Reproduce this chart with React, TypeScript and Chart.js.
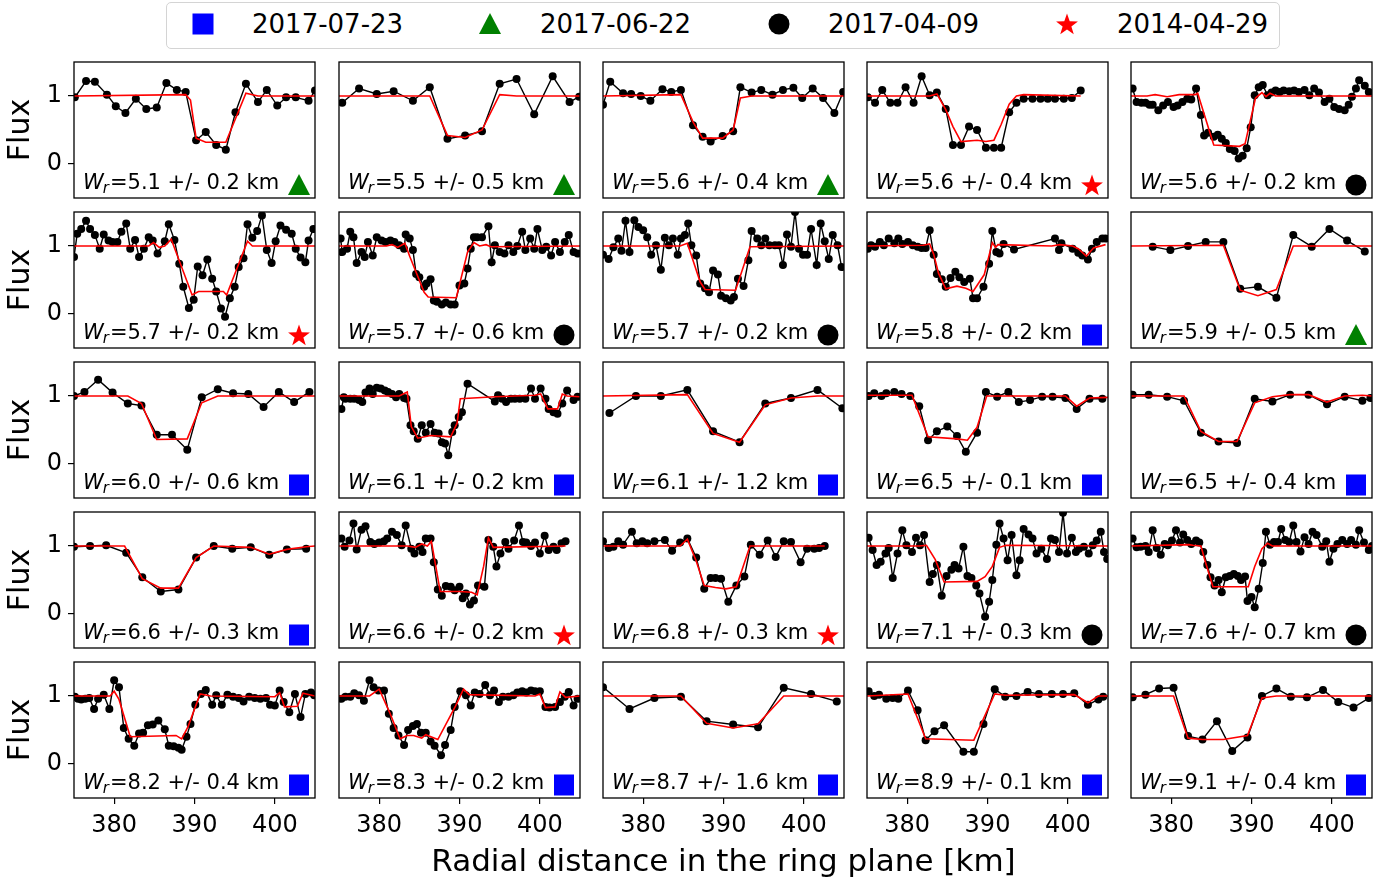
import React, { useEffect, useRef } from "react";
import { Chart, registerables } from "chart.js";

Chart.register(...registerables);

const FONT = "'DejaVu Sans', 'Noto Sans', sans-serif";

// ---------- panel data (radial distance [km], normalised flux) ----------
const d01x = [375.1,376.5,377.6,379.1,380.2,381.4,382.7,384.0,385.3,386.5,387.8,388.9,390.2,391.4,392.7,393.9,395.1,396.4,397.9,399.0,400.3,401.4,402.6,404.2,405.0];
const d01y = [0.98,1.22,1.21,1.02,0.85,0.75,0.96,0.81,0.83,1.19,1.09,1.06,0.35,0.47,0.28,0.21,0.76,1.18,0.91,1.09,0.86,0.98,0.98,0.93,1.08];
const m01x = [375,388.9,389.5,390.2,391.4,393.9,396.4,397.9,405];
const m01y = [1.0,1.02,0.94,0.38,0.32,0.32,1.04,1.0,1.0];

const d02x = [375.4,377.5,379.7,381.8,384.2,386.3,388.5,390.7,392.8,395.0,397.1,399.3,401.6,403.7,404.9];
const d02y = [0.90,1.11,1.03,1.07,0.93,1.13,0.37,0.42,0.48,1.18,1.25,0.73,1.29,0.91,0.99];
const m02x = [375,386.3,388.5,390.7,392.8,395.0,397.1,405];
const m02y = [1,1.0,0.42,0.39,0.5,1.02,1.0,1.0];

const d03x = [375.0,375.9,377.5,378.5,379.7,380.9,382.4,383.5,384.7,386.2,387.4,388.4,389.9,391.2,392.1,393.5,394.7,396.1,397.4,398.7,399.8,401.1,402.4,403.8,404.9];
const d03y = [0.87,1.21,1.04,1.03,1.0,0.93,1.1,1.06,1.09,0.57,0.40,0.33,0.41,0.48,1.13,1.05,1.09,1.02,1.09,1.12,0.97,1.11,0.97,0.75,1.06];
const m03x = [375,384.7,386.2,387.4,389.9,391.2,392.1,393.5,405];
const m03y = [1.0,1.02,0.62,0.38,0.38,0.5,0.97,1.0,1.0];

const d04x = [375.1,376.0,376.9,377.9,378.8,379.8,380.8,381.8,382.8,383.7,384.8,385.7,386.7,387.7,388.7,389.8,390.8,391.7,392.7,393.6,394.5,395.6,396.6,397.5,398.4,399.5,400.5,401.6];
const d04y = [0.98,0.90,1.09,0.90,0.90,1.13,0.90,1.29,1.01,1.05,0.81,0.28,0.28,0.55,0.50,0.24,0.24,0.24,0.76,0.90,0.96,0.96,0.96,0.96,0.96,0.96,0.97,1.08];
const m04x = [375,382.8,383.7,384.8,385.7,386.7,388.7,389.8,390.8,391.7,392.7,393.6,394.5,401.6];
const m04y = [1.0,1.0,1.03,0.8,0.55,0.33,0.35,0.33,0.35,0.58,0.88,1.0,1.02,1.0];

const d05x = [375.2,375.7,376.3,376.8,377.3,377.7,378.4,379.0,379.6,380.3,380.8,381.4,382.0,382.5,383.1,383.7,384.1,384.6,385.3,385.8,386.3,386.8,387.3,387.9,388.4,388.9,389.4,389.9,390.4,390.9,391.4,392.0,392.5,393.0,393.5,394.0,394.7,395.3,395.9,396.6,397.2,397.8,398.4,399.1,399.7,400.3,400.9,401.6,402.1,402.5,403.0,403.4,404.1,404.6];
const d05y = [1.11,0.91,0.90,0.90,0.87,0.87,0.79,0.86,0.91,0.84,0.86,0.91,0.96,0.95,1.11,0.72,0.42,0.46,0.40,0.43,0.37,0.31,0.22,0.19,0.08,0.12,0.23,0.54,1.01,1.13,1.16,1.01,1.05,1.08,1.06,1.08,1.07,1.08,1.06,1.09,1.01,1.11,1.05,0.91,0.96,0.84,0.81,0.79,0.87,0.99,1.11,1.23,1.15,1.06];
const m05x = [375,377.0,378.0,379.5,381.0,383.0,383.3,385.3,388.5,389.2,390.5,391.3,391.8,392.3,393.0,405];
const m05y = [1.0,1.0,1.02,0.99,1.02,1.02,1.04,0.28,0.26,0.3,0.97,1.05,0.99,1.04,1.0,1.0];

const d06x = [375.0,375.4,375.9,376.5,377.0,377.6,378.2,378.7,379.3,379.8,380.4,380.9,381.5,382.0,382.6,383.1,383.7,384.3,384.8,385.4,386.3,386.8,387.5,388.1,388.6,389.3,389.9,390.4,391.0,391.6,392.2,392.7,393.3,393.8,394.4,395.0,395.5,396.1,396.6,397.2,397.8,398.4,399.0,399.6,400.1,400.7,401.4,402.1,402.6,403.2,403.8,404.2,404.8];
const d06y = [0.84,1.18,1.25,1.37,1.25,1.16,0.96,1.17,1.08,1.06,1.06,1.21,1.33,0.96,1.09,0.84,0.96,1.13,1.08,0.89,1.07,1.32,1.09,0.74,0.40,0.09,0.21,0.70,0.57,0.80,0.52,0.33,0.08,-0.04,0.23,0.40,0.69,0.82,1.32,1.12,1.22,1.45,0.94,0.75,1.07,1.30,1.24,1.18,0.96,0.83,0.76,1.08,1.25];
const m06x = [375,384.3,384.9,385.6,386.3,387.1,389.7,390.5,393.6,394.0,396.6,397.2,405];
const m06y = [1.0,1.0,1.05,0.98,1.0,1.1,0.28,0.33,0.33,0.28,1.07,1.0,1.0];

const d07x = [375.2,375.4,376.0,376.4,376.8,377.2,377.8,378.2,378.6,379.2,379.7,380.3,380.8,381.4,381.9,382.5,383.1,383.3,383.8,384.2,384.6,385.0,385.6,385.9,386.4,386.8,387.2,387.8,388.3,388.9,389.4,390.0,390.6,391.0,391.4,391.8,392.2,392.8,393.6,394.0,394.4,395.0,395.6,396.1,396.7,397.2,397.8,398.2,398.8,399.3,399.7,400.3,400.8,401.4,401.9,402.5,403.1,403.6,404.2,404.7];
const d07y = [1.11,0.91,0.96,1.21,1.13,0.75,0.91,0.84,1.06,0.86,1.13,1.08,1.06,1.08,1.06,1.01,0.96,1.17,1.11,0.94,0.59,0.54,0.40,0.45,0.51,0.20,0.18,0.14,0.17,0.14,0.14,0.42,0.45,0.67,0.96,1.13,1.13,1.13,1.29,0.76,1.01,0.91,0.89,1.01,0.91,1.0,1.21,0.94,1.11,0.96,1.25,0.94,0.99,0.86,1.06,0.91,1.06,1.16,0.91,0.89];
const m07x = [375,380.9,381.6,382.3,383.2,383.8,385.6,386.1,389.6,391.0,391.8,392.5,393.3,393.9,405];
const m07y = [1,1,1.02,0.98,1.04,0.85,0.32,0.25,0.24,0.91,1.05,1.0,1.02,0.99,1.0];

const d08x = [375.0,375.7,376.3,376.9,377.3,377.8,378.3,378.9,379.4,380.0,380.5,381.0,381.6,382.2,382.7,383.2,383.7,384.3,384.7,385.2,385.6,386.0,386.6,387.1,387.7,388.2,388.7,389.3,389.7,390.3,390.9,391.3,391.8,392.5,393.1,393.5,394.2,394.7,395.2,395.7,396.4,396.9,397.4,397.9,398.4,398.9,399.4,399.9,400.4,400.9,401.6,402.1,402.6,403.1,403.6,404.2,404.7];
const d08y = [0.87,0.81,0.98,1.11,0.93,1.37,0.91,1.38,1.28,1.23,1.13,0.87,1.01,0.65,1.12,1.01,1.11,0.87,1.11,1.16,1.33,1.01,0.86,0.45,0.38,0.32,0.64,0.58,0.27,0.23,0.20,0.25,0.52,0.41,0.79,1.22,1.11,1.01,1.11,1.01,1.01,1.01,0.72,1.17,0.99,1.50,0.96,0.87,0.87,1.25,0.72,1.33,1.07,0.81,1.16,1.01,0.69];
const m08x = [375,384.6,385.5,387.1,387.7,391.5,393.3,405];
const m08y = [1,1,1.04,0.47,0.36,0.35,0.99,1.0];

const d09x = [375.1,375.5,376.0,376.6,377.1,377.7,378.4,378.9,379.4,380.1,380.7,381.3,381.8,382.3,382.8,383.3,383.7,384.3,384.8,385.4,386.0,386.5,387.1,387.8,388.2,388.7,389.5,390.2,390.6,391.1,391.5,392.0,393.3,398.4,398.9,399.2,400.6,401.3,401.8,402.5,403.0,403.6,404.3,404.7];
const d09y = [0.96,1.01,0.99,1.06,1.01,1.11,1.04,1.11,1.03,1.06,1.01,0.99,0.97,0.97,1.23,0.87,0.59,0.51,0.40,0.53,0.62,0.54,0.47,0.52,0.23,0.23,0.40,0.74,1.22,0.91,0.89,1.03,0.95,1.11,0.94,1.04,0.96,0.90,0.86,0.80,0.96,1.06,1.11,1.11];
const m09x = [375,382.0,382.8,383.3,383.9,384.8,386.2,387.3,388.2,389.6,390.6,391.0,391.3,398.0,399.0,400.6,401.3,402.3,403.2,404.7];
const m09y = [1.0,1.01,1.03,0.88,0.6,0.37,0.41,0.38,0.33,0.58,1.05,0.98,1.02,1.0,1.02,1.0,0.96,0.85,0.97,1.02];

const d10x = [377.7,379.9,382.1,384.3,386.5,388.6,390.8,393.1,395.2,397.5,399.7,401.9,404.1];
const d10y = [0.99,0.94,1.0,1.06,1.06,0.37,0.40,0.24,1.16,0.99,1.25,1.08,0.92];
const m10x = [375,386.5,388.6,390.8,393.1,395.2,405];
const m10y = [1,1.01,0.35,0.27,0.36,1.0,1.0];

const d11x = [375.0,376.3,378.0,379.8,381.7,383.4,385.3,387.2,389.1,390.9,392.9,394.8,396.7,398.6,400.5,402.4,404.3];
const d11y = [1.0,1.06,1.24,1.05,0.89,0.86,0.43,0.43,0.21,0.98,1.10,1.04,1.03,0.84,1.06,0.91,1.06];
const m11x = [375,381.7,383.4,385.3,389.1,390.9,392.9,405];
const m11y = [1,1,0.89,0.36,0.37,0.9,1,1];

const d12x = [375.3,375.6,375.8,376.4,376.9,377.5,377.9,378.3,378.8,379.2,379.7,380.2,380.7,381.1,381.6,382.1,382.5,383.1,383.4,383.9,384.3,384.8,385.3,385.8,386.4,386.9,387.4,387.8,388.2,388.6,389.1,389.4,389.9,390.3,391.0,394.4,394.8,395.3,395.8,396.4,396.9,397.5,398.2,398.9,399.4,400.1,400.7,401.1,401.7,402.2,402.8,403.4,404.2,404.7];
const d12y = [0.81,0.98,0.96,0.96,0.96,0.94,0.91,1.05,1.11,1.03,1.12,1.11,1.08,1.06,1.03,0.98,1.03,0.97,0.96,0.57,0.48,0.37,0.57,0.46,0.59,0.46,0.45,0.32,0.30,0.13,0.47,0.57,0.69,0.76,1.18,0.92,1.01,0.96,0.91,0.96,0.96,0.96,0.96,1.11,0.96,1.11,0.96,0.81,0.76,0.74,0.89,1.08,0.94,0.99];
const m12x = [375,382.5,383.5,384.0,384.8,386.4,388.9,389.7,390.1,394.4,399.4,400.1,401.0,402.2,402.8,403.4,405];
const m12y = [1,1,1.06,0.55,0.38,0.42,0.4,0.6,0.96,0.99,1.01,1.03,0.81,0.81,1.03,1.0,0.99];

const d13x = [375.8,379.1,382.2,385.5,388.7,392.0,395.2,398.4,401.7,404.8];
const d13y = [0.75,1.0,1.0,1.09,0.48,0.32,0.89,0.97,1.09,0.82];
const m13x = [375,385.5,388.7,392.0,395.2,398.4,401.7,405];
const m13y = [1.0,1.02,0.45,0.32,0.87,0.97,1.0,1.0];

const d14x = [375.2,375.9,376.8,377.4,378.4,379.3,380.4,381.5,382.6,383.7,385.0,386.2,387.3,388.7,389.8,391.2,392.6,393.9,395.3,396.8,398.1,399.7,401.1,402.7,404.3];
const d14y = [1.0,1.04,1.0,1.04,1.06,1.03,1.0,0.85,0.35,0.48,0.55,0.41,0.18,0.46,1.06,0.99,1.06,0.91,0.94,0.99,0.99,0.97,0.81,0.96,0.96];
const m14x = [375,380.6,382.6,386.2,387.5,388.7,389.9,399.7,401.1,402.7,405];
const m14y = [1.01,1.01,0.4,0.37,0.35,0.54,1.0,1.0,0.85,0.97,0.98];

const d15x = [375.2,377.2,379.5,381.6,383.7,385.9,388.2,390.4,392.6,394.8,397.1,399.4,401.6,403.8,404.8];
const d15y = [1.02,1.02,0.99,0.93,0.46,0.33,0.31,0.96,0.92,1.02,1.02,0.88,0.99,0.93,0.97];
const m15x = [375,381.6,383.7,385.9,388.2,390.4,392.6,394.8,397.1,399.4,401.6,403.8,405];
const m15y = [1,1.0,0.48,0.33,0.33,0.9,0.99,1.02,1.02,0.91,1.0,1.01,1.0];

const d16x = [375.0,377.0,379.0,381.5,383.5,385.8,388.0,390.2,392.4,394.7,397.0,399.3,401.5,403.9];
const d16y = [0.99,1.0,1.01,0.90,0.54,0.33,0.36,0.83,1.0,0.96,0.98,0.87,0.95,0.96];
const m16x = [375,381.3,383.5,385.8,388.0,390.2,392.4,397.0,399.3,401.5,403.9,405];
const m16y = [1,1.0,0.52,0.38,0.38,0.83,1.0,0.98,0.88,0.95,0.99,1.0];

const d17x = [375.3,375.7,376.3,376.8,377.2,377.8,378.3,378.9,379.4,380.0,380.6,381.0,381.6,382.2,382.8,383.3,384.0,384.4,385.0,385.4,385.8,386.4,386.8,387.3,387.8,388.3,388.9,389.4,390.0,390.4,390.8,391.3,391.8,392.3,393.1,393.6,394.2,394.6,395.1,395.7,396.1,396.8,397.4,397.9,398.3,398.9,399.4,400.0,400.6,401.1,401.7,402.1,402.7,403.2];
const d17y = [1.11,0.99,1.08,1.33,0.95,1.24,1.29,1.06,1.03,1.05,1.07,1.11,1.21,1.16,1.01,1.30,0.96,0.89,0.99,0.91,1.11,1.11,0.76,0.36,0.27,0.41,0.40,0.35,0.40,0.23,0.30,0.14,0.20,0.42,0.40,1.09,0.99,0.70,0.89,1.06,0.96,1.08,1.30,1.06,1.05,1.0,1.05,0.89,1.15,0.94,0.99,0.94,1.04,1.07];
const m17x = [375,383.5,384.5,385.3,386.0,386.5,387.6,390.0,391.5,392.2,393.0,393.6,394.2,403.2];
const m17y = [1,1,0.98,1.03,1.0,1.07,0.33,0.33,0.32,0.28,0.7,1.12,0.98,1.0];

const d18x = [375.0,375.7,376.3,376.9,377.5,378.6,379.2,379.9,380.5,381.4,382.7,383.6,384.6,385.5,386.6,387.6,388.4,389.0,389.7,390.6,391.6,392.6,393.4,394.5,395.5,396.5,397.5,398.4,399.6,400.4,401.3,401.9,402.6];
const d18y = [1.07,0.97,0.99,1.07,1.02,1.21,1.04,1.07,1.04,1.07,1.09,0.93,1.05,1.11,0.83,0.37,0.53,0.53,0.52,0.18,0.42,0.55,1.02,0.87,1.08,0.84,1.07,1.06,0.76,0.96,0.96,0.97,1.0];
const m18x = [375,384.6,385.5,386.6,387.6,389.0,390.3,391.6,393.3,394.5,402.6];
const m18y = [1,1.0,1.1,0.78,0.42,0.39,0.37,0.40,1.0,1.0,1.0];

const d19x = [375.2,375.7,376.2,376.7,377.3,377.7,378.2,378.8,379.4,379.9,380.6,381.1,381.6,382.1,382.8,383.2,383.7,384.3,384.9,385.5,385.9,386.4,387.0,387.5,388.0,388.6,389.0,389.7,390.2,390.6,391.1,391.5,392.0,392.5,393.0,393.6,394.0,394.5,395.1,395.6,396.1,396.7,397.4,397.9,398.4,398.9,399.4,399.9,400.5,401.0,401.4,402.0,402.6,403.1,403.6,404.1,404.5,404.9];
const d19y = [1.12,0.94,0.72,0.77,0.89,0.97,0.53,0.89,1.23,1.01,0.91,1.12,1.01,1.16,0.47,0.59,0.72,0.27,0.56,0.65,0.72,0.67,0.99,0.56,0.53,0.42,0.30,-0.04,0.18,0.50,1.02,1.33,1.11,0.79,1.16,0.57,0.79,1.25,1.17,1.11,0.89,0.96,0.81,1.11,1.09,0.91,1.49,0.89,1.12,0.91,0.96,0.99,0.89,1.01,1.08,1.21,0.91,0.81];
const m19x = [375,381.5,382.4,383.5,384.6,388.7,389.7,390.6,391.5,392.3,405];
const m19y = [1,1,1.01,0.8,0.47,0.48,0.55,0.7,0.98,1.01,1.0];

const d20x = [375.2,375.7,376.2,376.8,377.2,377.7,378.2,378.7,379.2,379.6,380.1,380.6,381.1,381.5,382.0,382.5,383.1,383.5,384.0,384.5,384.9,385.4,385.9,386.3,386.8,387.3,387.8,388.3,388.7,389.2,389.5,390.0,390.4,390.9,391.4,391.8,392.3,392.8,393.3,393.7,394.2,394.7,395.2,395.6,396.1,396.6,397.1,397.6,398.1,398.8,399.3,399.7,400.2,400.7,401.3,401.9,402.4,403.0,403.4,404.0,404.6,405.0];
const d20y = [1.11,0.98,0.99,1.0,0.91,1.23,0.97,0.87,1.03,1.01,1.08,1.23,1.05,1.17,1.09,1.03,1.08,1.05,0.91,0.72,0.54,0.42,0.50,0.32,0.54,0.56,0.59,0.56,0.50,0.55,0.19,0.25,0.10,0.37,0.75,1.21,1.02,1.06,1.06,1.25,1.09,1.06,1.30,1.06,0.92,1.13,1.03,1.21,1.16,0.99,1.07,0.77,0.96,1.03,1.09,1.03,1.09,1.02,1.23,1.05,0.94,1.0];
const m20x = [375,382.2,382.7,383.7,384.3,385.2,389.6,390.4,391.3,392.0,392.6,405];
const m20y = [1,1.02,1.01,1.0,0.75,0.40,0.40,0.7,0.96,1.04,1.0,1.0];

const d21x = [375.1,375.5,375.9,376.4,376.9,377.5,378.0,378.7,379.4,380.0,380.6,381.2,381.8,382.5,383.1,383.6,384.2,384.8,385.5,386.3,386.8,387.4,388.0,388.4,389.0,389.5,390.1,390.8,391.4,392.2,392.7,393.4,394.1,394.8,395.5,396.1,396.8,397.5,398.2,398.9,399.4,400.0,400.6,401.1,401.8,402.5,403.2,403.8,404.5,404.9];
const d21y = [0.99,0.96,0.95,0.96,0.97,0.81,0.96,1.02,0.81,1.23,1.13,0.53,0.37,0.27,0.45,0.46,0.57,0.58,0.64,0.51,0.27,0.26,0.24,0.21,0.40,0.59,0.87,1.03,1.09,0.87,1.01,0.87,1.02,0.99,0.97,0.92,0.99,0.97,0.96,0.97,0.87,0.86,1.08,0.91,0.76,1.03,0.69,1.03,1.05,1.01];
const m21x = [375,379.5,380.0,380.6,382.0,387.7,388.4,389.2,390.7,392,400.0,400.6,401.2,402.8,403.5,405];
const m21y = [1,1,1.07,0.95,0.40,0.42,0.37,0.55,1.03,1.0,0.99,1.05,0.84,0.85,1.04,1.0];

const d22x = [375.3,375.8,376.4,376.9,377.5,378.1,378.8,379.3,379.9,380.6,381.2,381.8,382.4,383.1,383.6,384.2,384.7,385.2,385.8,386.4,386.9,387.7,388.2,388.9,389.4,390.1,390.8,391.4,391.9,392.5,393.2,393.8,394.3,394.9,395.4,396.1,396.7,397.2,397.8,398.3,398.9,399.4,400.0,400.7,401.2,401.9,402.5,403.1,403.6,404.2,404.7];
const d22y = [0.96,0.99,0.99,1.04,1.01,0.93,1.23,1.13,1.08,1.08,0.74,0.53,0.42,0.28,0.50,0.56,0.59,0.46,0.46,0.33,0.27,0.13,0.28,0.50,0.84,1.07,1.01,0.86,1.05,1.03,1.16,1.01,1.08,0.91,0.99,0.99,1.01,1.05,1.07,1.05,1.08,1.07,1.07,0.84,0.83,0.84,0.91,0.99,1.06,0.86,0.96];
const m22x = [375,378.8,380.0,381.3,382.6,383.5,384.3,385.3,385.8,387.3,389.5,390.5,391.2,399.4,400.0,400.7,401.9,402.5,403.2,405];
const m22y = [1,1,1.1,0.76,0.37,0.42,0.42,0.38,0.43,0.36,0.85,1.1,1.02,1.0,1.03,0.83,0.84,1.06,0.98,1.0];

const d23x = [375.0,378.3,381.4,384.7,387.9,391.2,394.3,397.5,400.9,404.1];
const d23y = [1.13,0.81,0.97,0.99,0.63,0.58,0.54,1.12,1.03,0.92];
const m23x = [375,384.7,387.9,391.2,394.3,397.5,405];
const m23y = [1.0,1.0,0.6,0.53,0.59,1.0,1.0];

const d24x = [375.2,375.9,376.5,377.4,378.2,378.9,380.1,381.3,382.3,383.4,384.6,387.0,388.3,389.5,390.9,392.2,393.6,395.0,396.4,398.0,399.4,400.8,402.5,403.8,404.4];
const d24y = [1.07,1.0,1.02,0.96,0.97,0.96,1.08,0.79,0.35,0.48,0.57,0.18,0.18,0.59,1.10,0.99,1.0,1.06,1.03,1.03,1.03,1.04,0.87,0.95,0.99];
const m24x = [375,380.1,382.3,388.3,390.9,392.2,400.8,402.5,403.8,405];
const m24y = [1.0,1.03,0.37,0.35,1.03,1.01,1.02,0.9,1.0,1.0];

const d25x = [375.2,376.8,378.5,380.3,382.1,383.9,385.7,387.6,389.5,391.3,393.1,394.9,396.9,398.9,400.8,402.7,404.6];
const d25y = [0.98,1.02,1.11,1.12,0.41,0.36,0.63,0.19,0.39,1.0,1.11,0.99,0.98,1.09,0.91,0.83,0.97];
const m25x = [375,380.3,382.1,383.9,386.5,389.5,391.3,393.1,405];
const m25y = [1.0,1.0,0.38,0.36,0.36,0.42,0.97,1.0,1.0];

// ---------- per-panel labels ----------
const widthsKm = [5.1,5.5,5.6,5.6,5.6,5.7,5.7,5.7,5.8,5.9,6.0,6.1,6.1,6.5,6.5,6.6,6.6,6.8,7.1,7.6,8.2,8.3,8.7,8.9,9.1];
const errorsKm = [0.2,0.5,0.4,0.4,0.2,0.2,0.6,0.2,0.2,0.5,0.6,0.2,1.2,0.1,0.4,0.3,0.2,0.3,0.3,0.7,0.4,0.2,1.6,0.1,0.4];
const panelKinds = ["triangle","triangle","triangle","star","circle","star","circle","circle","square","triangle","square","square","square","square","square","square","star","star","circle","circle","square","square","square","square","square"];

const legendDates = ["2017-07-23", "2017-06-22", "2017-04-09", "2014-04-29"];
const legendKinds = ["square", "triangle", "circle", "star"];
const kindColors: Record<string, string> = { square: "#0000ff", triangle: "#008000", circle: "#000000", star: "#ff0000" };

const xTicks = [380, 390, 400];
const yTicks = [0, 1];
const xTitle = "Radial distance in the ring plane [km]";
const yTitle = "Flux";

const DATA_X = [d01x,d02x,d03x,d04x,d05x,d06x,d07x,d08x,d09x,d10x,d11x,d12x,d13x,d14x,d15x,d16x,d17x,d18x,d19x,d20x,d21x,d22x,d23x,d24x,d25x];
const DATA_Y = [d01y,d02y,d03y,d04y,d05y,d06y,d07y,d08y,d09y,d10y,d11y,d12y,d13y,d14y,d15y,d16y,d17y,d18y,d19y,d20y,d21y,d22y,d23y,d24y,d25y];
const MODEL_X = [m01x,m02x,m03x,m04x,m05x,m06x,m07x,m08x,m09x,m10x,m11x,m12x,m13x,m14x,m15x,m16x,m17x,m18x,m19x,m20x,m21x,m22x,m23x,m24x,m25x];
const MODEL_Y = [m01y,m02y,m03y,m04y,m05y,m06y,m07y,m08y,m09y,m10y,m11y,m12y,m13y,m14y,m15y,m16y,m17y,m18y,m19y,m20y,m21y,m22y,m23y,m24y,m25y];

// ---------- layout ----------
const COL_LEFT = [74, 339, 603, 867, 1131];
const ROW_TOP = [62, 212, 362, 512, 662];
const PW = 241;
const PH = 136;

function zip(xs: number[], ys: number[]) {
  const n = Math.min(xs.length, ys.length);
  const out: { x: number; y: number }[] = [];
  for (let i = 0; i < n; i++) out.push({ x: xs[i], y: ys[i] });
  return out;
}

function starPoints(cx: number, cy: number, R: number) {
  const pts: [number, number][] = [];
  const r = R * 0.4;
  for (let i = 0; i < 10; i++) {
    const a = -Math.PI / 2 + (i * Math.PI) / 5;
    const rad = i % 2 === 0 ? R : r;
    pts.push([cx + rad * Math.cos(a), cy + rad * Math.sin(a)]);
  }
  return pts;
}

function drawMarker(ctx: CanvasRenderingContext2D, kind: string, cx: number, cy: number) {
  ctx.save();
  ctx.fillStyle = kindColors[kind];
  ctx.beginPath();
  if (kind === "square") {
    ctx.rect(cx - 10, cy - 10.5, 20, 21);
  } else if (kind === "triangle") {
    ctx.moveTo(cx, cy - 11);
    ctx.lineTo(cx + 11, cy + 10);
    ctx.lineTo(cx - 11, cy + 10);
    ctx.closePath();
  } else if (kind === "circle") {
    ctx.arc(cx, cy, 10.5, 0, Math.PI * 2);
  } else {
    const pts = starPoints(cx, cy + 1, 11.5);
    ctx.moveTo(pts[0][0], pts[0][1]);
    for (let i = 1; i < pts.length; i++) ctx.lineTo(pts[i][0], pts[i][1]);
    ctx.closePath();
  }
  ctx.fill();
  ctx.restore();
}

const decoPlugin = {
  id: "panelDeco",
  afterDatasetsDraw(chart: any, _args: any, opts: any) {
    const { ctx, chartArea: a } = chart;
    ctx.save();
    ctx.strokeStyle = "#000";
    ctx.lineWidth = 1.3;
    ctx.strokeRect(a.left, a.top, a.right - a.left, a.bottom - a.top);
    const x0 = a.left + 9;
    const by = a.bottom - 9;
    ctx.fillStyle = "#000";
    ctx.textAlign = "left";
    ctx.textBaseline = "alphabetic";
    ctx.font = `italic 21px ${FONT}`;
    ctx.fillText("W", x0, by);
    let x = x0 + ctx.measureText("W").width - 1;
    ctx.font = `italic 15px ${FONT}`;
    ctx.fillText("r", x, by + 4);
    x += ctx.measureText("r").width + 1;
    ctx.font = `21px ${FONT}`;
    ctx.fillText(`=${opts.w.toFixed(1)} +/- ${opts.e.toFixed(1)} km`, x, by);
    drawMarker(ctx, opts.kind, a.right - 16, a.bottom - 13);
    ctx.restore();
  },
};

function Panel({ idx }: { idx: number }) {
  const ref = useRef<HTMLCanvasElement | null>(null);
  const row = Math.floor(idx / 5);
  const col = idx % 5;
  const showY = col === 0;
  const showX = row === 4;
  const ML = showY ? 74 : 2;
  const MT = 2;
  const MR = 2;
  const MB = showX ? 50 : 2;
  const cw = ML + PW + MR;
  const ch = MT + PH + MB;

  useEffect(() => {
    if (!ref.current) return;
    const tickFont = { family: FONT, size: 24 };
    const chart = new Chart(ref.current, {
      type: "line",
      data: {
        datasets: [
          {
            data: zip(MODEL_X[idx], MODEL_Y[idx]),
            borderColor: "#ff0000",
            borderWidth: 1.6,
            pointRadius: 0,
            tension: 0,
            order: 0,
          },
          {
            data: zip(DATA_X[idx], DATA_Y[idx]),
            borderColor: "#000000",
            backgroundColor: "#000000",
            borderWidth: 1.4,
            pointRadius: 4,
            pointBorderWidth: 0,
            pointBackgroundColor: "#000000",
            tension: 0,
            order: 1,
          },
        ],
      },
      options: {
        responsive: false,
        maintainAspectRatio: false,
        animation: false,
        events: [],
        layout: { padding: { left: 0, top: MT, right: MR, bottom: 0 }, autoPadding: false },
        plugins: {
          legend: { display: false },
          tooltip: { enabled: false },
          panelDeco: { w: widthsKm[idx], e: errorsKm[idx], kind: panelKinds[idx] },
        } as any,
        scales: {
          x: {
            type: "linear",
            min: 375,
            max: 405,
            afterBuildTicks: (axis: any) => {
              axis.ticks = xTicks.map((v) => ({ value: v }));
            },
            afterFit: (s: any) => {
              s.height = MB;
              s.paddingLeft = 0;
              s.paddingRight = 0;
              s.paddingTop = 0;
              s.paddingBottom = 0;
            },
            ticks: { display: showX, font: tickFont, color: "#000", padding: 7, autoSkip: false, maxRotation: 0 },
            grid: { display: showX, drawOnChartArea: false, drawTicks: true, tickLength: 6, color: "#000", lineWidth: 1.2 },
            border: { display: false },
          },
          y: {
            type: "linear",
            min: -0.5,
            max: 1.5,
            afterBuildTicks: (axis: any) => {
              axis.ticks = yTicks.map((v) => ({ value: v }));
            },
            afterFit: (s: any) => {
              s.width = ML;
              s.paddingLeft = 0;
              s.paddingRight = 0;
              s.paddingTop = 0;
              s.paddingBottom = 0;
            },
            ticks: { display: showY, font: tickFont, color: "#000", padding: 6 },
            grid: { display: showY, drawOnChartArea: false, drawTicks: true, tickLength: 6, color: "#000", lineWidth: 1.2 },
            border: { display: false },
            title: {
              display: showY,
              text: yTitle,
              color: "#000",
              font: { family: FONT, size: 30 },
              padding: { top: 3, bottom: 0 },
            },
          },
        },
      } as any,
      plugins: [decoPlugin as any],
    });
    return () => chart.destroy();
  }, [idx]);

  return (
    <canvas
      ref={ref}
      width={cw}
      height={ch}
      style={{
        position: "absolute",
        left: COL_LEFT[col] - ML,
        top: ROW_TOP[row] - MT,
        width: cw,
        height: ch,
      }}
    />
  );
}

function LegendMarker({ kind }: { kind: string }) {
  const c = kindColors[kind];
  const s = 26;
  const m = s / 2;
  let shape: React.ReactNode = null;
  if (kind === "square") shape = <rect x={m - 10.5} y={m - 10.5} width={21} height={21} fill={c} />;
  else if (kind === "triangle") shape = <polygon points={`${m},${m - 11} ${m + 11},${m + 10} ${m - 11},${m + 10}`} fill={c} />;
  else if (kind === "circle") shape = <circle cx={m} cy={m} r={10.5} fill={c} />;
  else shape = <polygon points={starPoints(m, m + 1, 11.5).map((p) => p.join(",")).join(" ")} fill={c} />;
  return (
    <svg width={s} height={s} style={{ display: "block" }}>
      {shape}
    </svg>
  );
}

const legendMarkerX = [203, 490, 779, 1067];
const legendTextX = [252, 540, 828, 1117];

export default function App() {
  const panels = [];
  for (let i = 0; i < 25; i++) panels.push(<Panel key={i} idx={i} />);
  return (
    <div style={{ position: "absolute", left: 0, top: 0, width: 1389, height: 879, background: "#fff", overflow: "hidden" }}>
      <div
        style={{
          position: "absolute",
          left: 166,
          top: 2,
          width: 1114,
          height: 47,
          border: "1.5px solid #d4d4d4",
          borderRadius: 5,
          boxSizing: "border-box",
          background: "#fff",
        }}
      />
      {legendKinds.map((k, i) => (
        <div key={k} style={{ position: "absolute", left: legendMarkerX[i] - 13, top: 24 - 13 }}>
          <LegendMarker kind={k} />
        </div>
      ))}
      {legendDates.map((d, i) => (
        <div
          key={d}
          style={{
            position: "absolute",
            left: legendTextX[i],
            top: 6,
            height: 36,
            lineHeight: "36px",
            fontFamily: FONT,
            fontSize: 26,
            color: "#000",
            whiteSpace: "nowrap",
          }}
        >
          {d}
        </div>
      ))}
      {panels}
      <div
        style={{
          position: "absolute",
          left: 723.5 - 500,
          width: 1000,
          top: 842,
          height: 36,
          lineHeight: "36px",
          textAlign: "center",
          fontFamily: FONT,
          fontSize: 31,
          color: "#000",
          whiteSpace: "nowrap",
        }}
      >
        {xTitle}
      </div>
    </div>
  );
}
